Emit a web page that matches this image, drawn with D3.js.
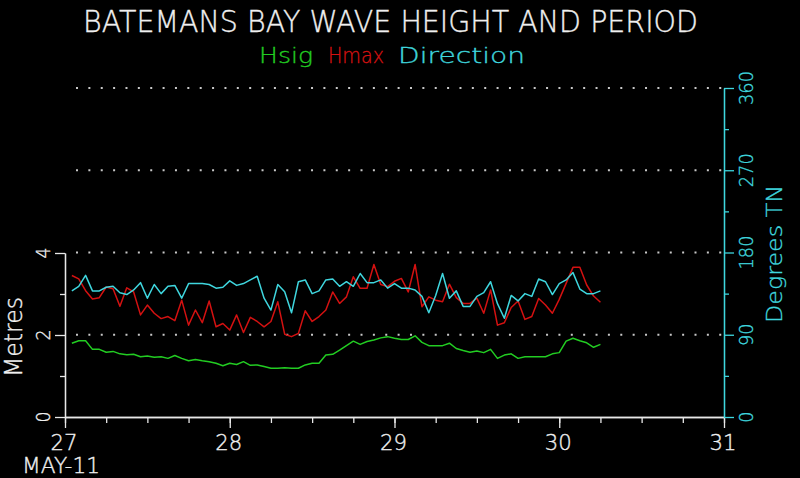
<!DOCTYPE html>
<html><head><meta charset="utf-8">
<script src="https://cdn.jsdelivr.net/npm/d3@7"></script>
<style>html,body{margin:0;padding:0;background:#000;overflow:hidden}svg{display:block}</style>
</head><body><svg id="c" width="800" height="478"></svg>
<script>
// ---- data ----
const title = "BATEMANS BAY WAVE HEIGHT AND PERIOD";
const seriesNames = ["Hsig", "Hmax", "Direction"];
const seriesColors = ["#22cc22", "#d41111", "#3fd6de"];
const startDate = new Date(Date.UTC(2011, 4, 27, 0));
const endDate = new Date(Date.UTC(2011, 4, 31, 0));
const sampleHours = d3.range(1, 79); // hourly samples after 27 May 00:00
const hsig = [1.80,1.86,1.86,1.65,1.65,1.58,1.60,1.54,1.52,1.53,1.47,1.49,1.46,1.47,1.43,1.50,1.43,1.37,1.40,1.37,
  1.35,1.31,1.25,1.31,1.28,1.35,1.26,1.27,1.23,1.19,1.19,1.20,1.19,1.19,1.27,1.31,1.31,1.51,1.53,1.63,
  1.74,1.85,1.77,1.84,1.88,1.93,1.96,1.92,1.89,1.89,1.98,1.82,1.74,1.74,1.74,1.80,1.67,1.62,1.58,1.61,
  1.57,1.65,1.43,1.51,1.54,1.43,1.47,1.47,1.47,1.47,1.54,1.57,1.85,1.92,1.86,1.81,1.70,1.77];
const hmax = [3.45,3.37,3.08,2.88,2.91,3.17,3.13,2.70,3.15,3.05,2.49,2.73,2.53,2.40,2.45,2.35,2.85,2.24,2.61,2.30,
  2.83,2.20,2.28,2.12,2.49,2.06,2.43,2.33,2.20,2.33,2.81,2.02,1.96,2.04,2.59,2.33,2.45,2.61,3.05,2.77,
  2.93,3.42,3.14,3.14,3.72,3.23,3.18,3.31,3.38,3.05,3.72,2.69,2.93,2.85,2.81,3.24,2.91,2.77,2.77,2.90,
  2.53,3.10,2.24,2.30,2.67,2.83,2.38,2.45,2.89,2.73,2.53,2.87,3.26,3.65,3.65,3.22,2.95,2.80];
const direction = [138,143,155,138,138,142,143,136,134,139,147,130,145,135,143,144,130,146,146,146,
  145,141,142,149,144,146,150,154,130,117,145,137,114,148,150,135,138,150,151,143,
  148,143,157,147,147,150,141,146,141,141,139,132,114,133,157,130,138,121,121,132,
  136,148,124,108,133,127,135,132,151,148,134,146,150,158,140,135,135,138];
const dayTickLabels = ["27", "28", "29", "30", "31"];
const monthLabel = "MAY-11";
const metreTicks = [0, 2, 4];
const metreMinor = [1, 3];
const degreeTicks = [0, 90, 180, 270, 360];
const degreeMinor = [45, 135, 225, 315];
const gridDegrees = [90, 180, 270, 360];
const leftTitle = "Metres";
const rightTitle = "Degrees TN";

// ---- drawing ----
const FONT = "'DejaVu Sans', 'Noto Sans', sans-serif";
const svg = d3.select("#c");
svg.append("rect").attr("width", 800).attr("height", 478).attr("fill", "#000");

const times = sampleHours.map(h => d3.utcHour.offset(startDate, h));
const x = d3.scaleUtc().domain([startDate, endDate]).range([65, 724]);
const yM = d3.scaleLinear().domain([0, 4]).range([417, 253]);
const yD = d3.scaleLinear().domain([0, 360]).range([417, 88]);

function txt(s, px, py, size, len, color, rot) {
  const t = svg.append("text")
    .attr("transform", `translate(${px},${py})` + (rot ? ` rotate(${rot})` : ""))
    .attr("text-anchor", "middle")
    .attr("font-family", FONT).attr("font-size", size)
    .attr("font-weight", 200)
    .attr("fill", color).attr("stroke", color).attr("stroke-width", 0.35)
    .text(s);
  if (len) t.attr("textLength", len).attr("lengthAdjust", "spacingAndGlyphs");
  return t;
}

// grid dots
gridDegrees.forEach(dv => {
  svg.append("line")
    .attr("x1", 76).attr("x2", 722)
    .attr("y1", yD(dv)).attr("y2", yD(dv))
    .attr("stroke", "#c8c8c8").attr("stroke-width", 2)
    .attr("stroke-dasharray", "2 10.37");
});

// bottom axis
const dayDates = dayTickLabels.map((_, i) => d3.utcDay.offset(startDate, i));
const gx = svg.append("g").attr("transform", "translate(0,417)");
gx.call(d3.axisBottom(x).tickValues(dayDates).tickSize(11).tickSizeOuter(0).tickFormat(""));
gx.append("g").call(d3.axisBottom(x).ticks(d3.utcHour.every(6)).tickSize(6).tickSizeOuter(0).tickFormat(""));
gx.selectAll("path,line").attr("stroke", "#e8e8e8").attr("stroke-width", 1.3);
dayDates.forEach((d, i) => txt(dayTickLabels[i], x(d) - 1, 450, 22, 27, "#f0f0f0"));
txt(monthLabel, 61, 473, 21, 78, "#f0f0f0");

// left axis
const gl = svg.append("g").attr("transform", "translate(65,0)");
gl.call(d3.axisLeft(yM).tickValues(metreTicks).tickSize(10).tickSizeOuter(0).tickFormat(""));
gl.append("g").call(d3.axisLeft(yM).tickValues(metreMinor).tickSize(5).tickSizeOuter(0).tickFormat(""));
gl.selectAll("path,line").attr("stroke", "#e8e8e8").attr("stroke-width", 1.3);
metreTicks.forEach(v => txt(String(v), 50, yM(v), 19, 11, "#f0f0f0", -90));
txt(leftTitle, 22, 337, 25, 80, "#f0f0f0", -90);

// right axis
const gr = svg.append("g").attr("transform", "translate(724,0)");
gr.call(d3.axisRight(yD).tickValues(degreeTicks).tickSize(10).tickSizeOuter(0).tickFormat(""));
gr.append("g").call(d3.axisRight(yD).tickValues(degreeMinor).tickSize(5).tickSizeOuter(0).tickFormat(""));
gr.selectAll("path,line").attr("stroke", seriesColors[2]).attr("stroke-width", 1.3);
degreeTicks.forEach(v => {
  const s = String(v);
  txt(s, 753, yD(v), 20, s.length * 11.3, seriesColors[2], -90);
});
txt(rightTitle, 782, 254, 21, 138, seriesColors[2], -90);

// title & legend
txt(title, 390.5, 32, 30, 615, "#f0f0f0");
const legendPos = [[286, 54], [356, 56], [461.5, 127]];
seriesNames.forEach((n, i) => txt(n, legendPos[i][0], 63, 22, legendPos[i][1], seriesColors[i]));

// series lines
const lineM = d3.line().x((d, i) => x(times[i])).y(d => yM(d));
const lineD = d3.line().x((d, i) => x(times[i])).y(d => yD(d));
svg.append("path").attr("d", lineM(hsig)).attr("fill", "none").attr("stroke", seriesColors[0]).attr("stroke-width", 1.5).attr("stroke-linejoin", "round");
svg.append("path").attr("d", lineM(hmax)).attr("fill", "none").attr("stroke", seriesColors[1]).attr("stroke-width", 1.5).attr("stroke-linejoin", "round");
svg.append("path").attr("d", lineD(direction)).attr("fill", "none").attr("stroke", seriesColors[2]).attr("stroke-width", 1.5).attr("stroke-linejoin", "round");
</script></body></html>
